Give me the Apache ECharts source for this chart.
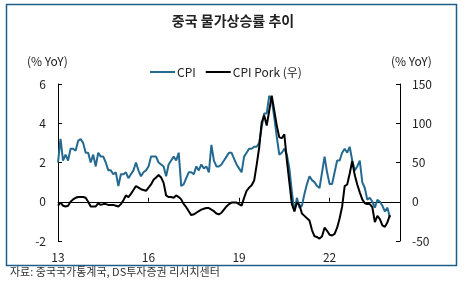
<!DOCTYPE html>
<html style="height: 100%">
	<head>
		<meta charset="utf-8">
	</head>
	<body style="height: 100%; margin: 0; background: #fff">
		<div id="container" style="width: 466px; height: 294px"></div>
		<script src="https://cdn.jsdelivr.net/npm/echarts@6/dist/echarts.min.js" type="text/javascript" charset="utf-8"></script>
		<script type="text/javascript">
			// 월별 카테고리 2013-01 ~ 2024-05 (축은 데이터 끝보다 조금 더 길다)
			var months = [];
			for (var y = 2013; y <= 2024; y++) {
				for (var m = 1; m <= 12; m++) {
					if (y == 2024 && m > 5) break;
					months.push(y + '-' + (m < 10 ? '0' + m : m));
				}
			}
			var tickYears = ['2013', '2016', '2019', '2022'];

			// CPI (% YoY, 좌축)
			var cpi = [
				2.0, 3.2, 2.1, 2.4, 2.1, 2.7, 2.7, 2.6, 3.1, 3.2, 3.0, 2.5,
				2.5, 2.0, 2.4, 1.8, 2.5, 2.3, 2.3, 2.0, 1.6, 1.6, 1.4, 1.5,
				0.8, 1.4, 1.4, 1.5, 1.2, 1.4, 1.6, 2.0, 1.6, 1.3, 1.5, 1.6,
				1.8, 2.3, 2.3, 2.3, 2.0, 1.9, 1.8, 1.3, 1.9, 2.1, 2.3, 2.1,
				2.5, 0.8, 0.9, 1.2, 1.5, 1.5, 1.4, 1.8, 1.6, 1.9, 1.7, 1.8,
				1.5, 2.9, 2.1, 1.8, 1.8, 1.9, 2.1, 2.3, 2.5, 2.5, 2.2, 1.9,
				1.7, 1.5, 2.3, 2.5, 2.7, 2.7, 2.8, 2.8, 3.0, 3.8, 4.5, 4.5,
				5.4, 5.2, 4.3, 3.3, 2.4, 2.5, 2.7, 2.4, 1.7, 0.5, -0.5, 0.2,
				-0.3, -0.2, 0.4, 0.9, 1.3, 1.1, 1.0, 0.8, 0.7, 1.5, 2.3, 1.5,
				0.9, 0.9, 1.5, 2.1, 2.1, 2.5, 2.7, 2.5, 2.8, 2.1, 1.6, 1.8,
				2.1, 1.0, 0.7, 0.1, 0.2, 0.0, -0.3, 0.1, 0.0, -0.2, -0.5, -0.3,
				-0.8
			];

			// CPI Pork (% YoY, 우축)
			var pork = [
				-5, -1, -5, -6, -5, 0, 3, 5, 6, 6, 6, 5,
				0, -6, -6, -6, -2, -4, -3, -3, -4, -4, -4, -5,
				-6, -3, 2, 8, 6, 10, 15, 20, 18, 16, 15, 14,
				18, 22, 28, 31, 34, 31, 24, 8, 6, 6, 5, 8,
				6, 3, -3, -7, -12, -17, -16, -14, -12, -10, -9, -8,
				-8, -10, -12, -15, -16, -14, -10, -6, -3, -1, -1, -1,
				-3, -5, 5, 14, 18, 21, 27, 47, 69, 101, 110, 97,
				116, 135, 116, 97, 82, 81, 86, 53, 25, -3, -12, -1,
				-4, -15, -18, -21, -24, -36, -44, -45, -47, -44, -33, -37,
				-42, -43, -41, -33, -21, -6, 20, 22, 36, 52, 34, 22,
				12, 3, -2, -3, -3, -7, -26, -18, -22, -30, -32, -26,
				-17
			];

			var font = '"Noto Sans CJK KR", "Noto Sans", sans-serif';
			var blue = '#246a90';

			function isTick(idx, val) {
				return val.slice(5) == '01' && tickYears.indexOf(val.slice(0, 4)) >= 0;
			}

			var myChart = echarts.init(document.getElementById('container'));
			var option = {
				backgroundColor: '#fff',
				animation: false,
				textStyle: { fontFamily: font },
				title: {
					text: '중국 물가상승률 추이',
					left: 'center',
					top: 9,
					textStyle: { fontFamily: font, fontSize: 14, fontWeight: 'bold', color: '#222' }
				},
				legend: {
					left: 145,
					top: 61,
					icon: 'rect',
					itemWidth: 25,
					itemHeight: 2,
					itemGap: 10,
					textStyle: { fontFamily: font, fontSize: 12, color: '#222', padding: [0, 0, 0, -3] },
					data: ['CPI', 'CPI Pork (우)']
				},
				grid: { left: 58, right: 66, top: 84, bottom: 53 },
				xAxis: [{
					// 라벨 전용 (하단)
					type: 'category',
					data: months,
					boundaryGap: false,
					position: 'bottom',
					axisLine: { show: false },
					axisTick: { show: false },
					splitLine: { show: false },
					axisLabel: {
						interval: isTick,
						margin: 10,
						color: '#222',
						fontSize: 12,
						fontFamily: font,
						formatter: function (v) { return v.slice(2, 4); }
					}
				}, {
					// 0선 + 안쪽 눈금
					type: 'category',
					data: months,
					boundaryGap: false,
					position: 'bottom',
					axisLine: { show: true, onZero: true, onZeroAxisIndex: 0, lineStyle: { color: '#000', width: 1 } },
					axisTick: { show: true, inside: true, length: 4, interval: isTick, lineStyle: { color: '#000' } },
					axisLabel: { show: false },
					splitLine: { show: false }
				}],
				yAxis: [{
					type: 'value',
					min: -2,
					max: 6,
					interval: 2,
					axisLine: { show: true, lineStyle: { color: '#000' } },
					axisTick: { show: true, inside: true, length: 4, lineStyle: { color: '#000' } },
					axisLabel: { margin: 12, color: '#222', fontSize: 12, fontFamily: font },
					splitLine: { show: false }
				}, {
					type: 'value',
					min: -50,
					max: 150,
					interval: 50,
					position: 'right',
					axisLine: { show: true, lineStyle: { color: '#000' } },
					axisTick: { show: true, inside: true, length: 4, lineStyle: { color: '#000' } },
					axisLabel: { margin: 12, color: '#222', fontSize: 12, fontFamily: font },
					splitLine: { show: false }
				}],
				graphic: [{
					type: 'rect',
					shape: { x: 6.5, y: 4.5, width: 450, height: 261 },
					style: { fill: 'none', stroke: '#1d5f88', lineWidth: 1.5 },
					silent: true
				}, {
					type: 'text',
					left: 27,
					top: 55,
					style: { text: '(% YoY)', font: '12px ' + font, fill: '#222' }
				}, {
					type: 'text',
					left: 391,
					top: 55,
					style: { text: '(% YoY)', font: '12px ' + font, fill: '#222' }
				}, {
					type: 'text',
					left: 10,
					top: 266,
					style: { text: '자료: 중국국가통계국, DS투자증권 리서치센터', font: '11px ' + font, fill: '#333' }
				}],
				series: [{
					name: 'CPI',
					type: 'line',
					xAxisIndex: 0,
					yAxisIndex: 0,
					data: cpi,
					symbol: 'none',
					lineStyle: { color: blue, width: 2 },
					itemStyle: { color: blue }
				}, {
					name: 'CPI Pork (우)',
					type: 'line',
					xAxisIndex: 0,
					yAxisIndex: 1,
					data: pork,
					symbol: 'none',
					lineStyle: { color: '#000', width: 2 },
					itemStyle: { color: '#000' }
				}]
			};
			myChart.setOption(option);
		</script>
	</body>
</html>
